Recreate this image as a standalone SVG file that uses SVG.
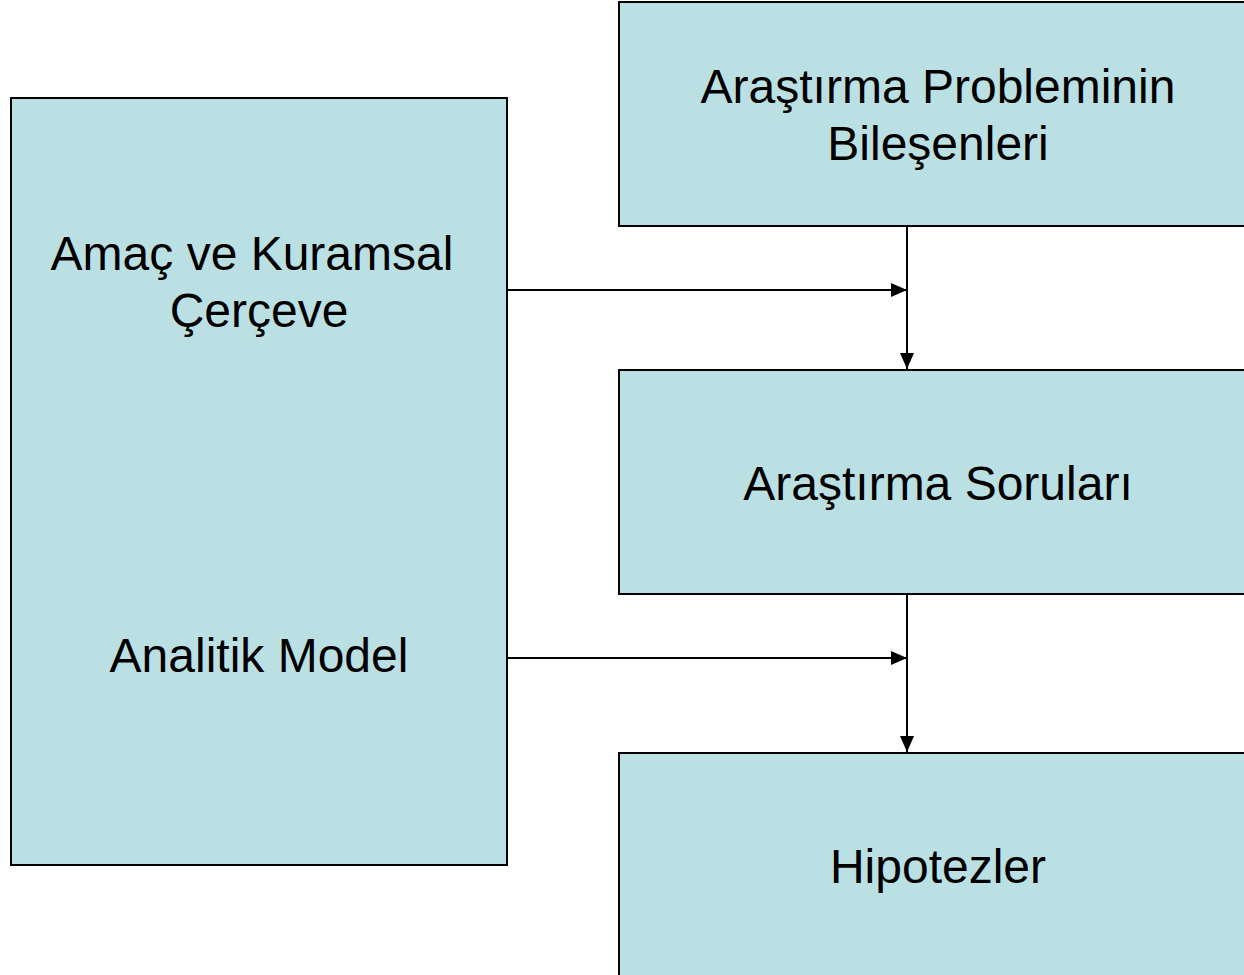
<svg xmlns="http://www.w3.org/2000/svg" width="1244" height="975" viewBox="0 0 1244 975">
<defs>
<style>
.box{fill:#bbe0e3;stroke:#000;stroke-width:2}
.t{font-family:"Liberation Sans",Arial,sans-serif;font-size:48px;fill:#000;text-anchor:middle}
.c{stroke:#000;stroke-width:2;fill:none;marker-end:url(#ah)}
</style>
<marker id="ah" viewBox="0 0 16 14" refX="16" refY="7" markerWidth="16" markerHeight="14" markerUnits="userSpaceOnUse" orient="auto">
<path d="M0,0 L16,7 L0,14 Z" fill="#000"/>
</marker>
</defs>
<rect width="1244" height="975" fill="#fff"/>
<g id="amac">
<rect class="box" x="11" y="98" width="496" height="767"/>
<text class="t" x="252" y="270">Amaç ve Kuramsal</text>
<text class="t" x="259" y="327">Çerçeve</text>
<text class="t" x="259" y="672">Analitik Model</text>
</g>
<g id="problem">
<rect class="box" x="619" y="2" width="640" height="224"/>
<text class="t" x="938" y="103">Araştırma Probleminin</text>
<text class="t" x="938" y="160">Bileşenleri</text>
</g>
<g id="sorular">
<rect class="box" x="619" y="370" width="640" height="224"/>
<text class="t" x="938" y="500">Araştırma Soruları</text>
</g>
<g id="hipotez">
<rect class="box" x="619" y="753" width="640" height="240"/>
<text class="t" x="938" y="883">Hipotezler</text>
</g>
<g id="connectors">
<line class="c" x1="508" y1="290" x2="907" y2="290"/>
<line class="c" x1="907" y1="227" x2="907" y2="369"/>
<line class="c" x1="508" y1="658" x2="907" y2="658"/>
<line class="c" x1="907" y1="595" x2="907" y2="752"/>
</g>
</svg>
